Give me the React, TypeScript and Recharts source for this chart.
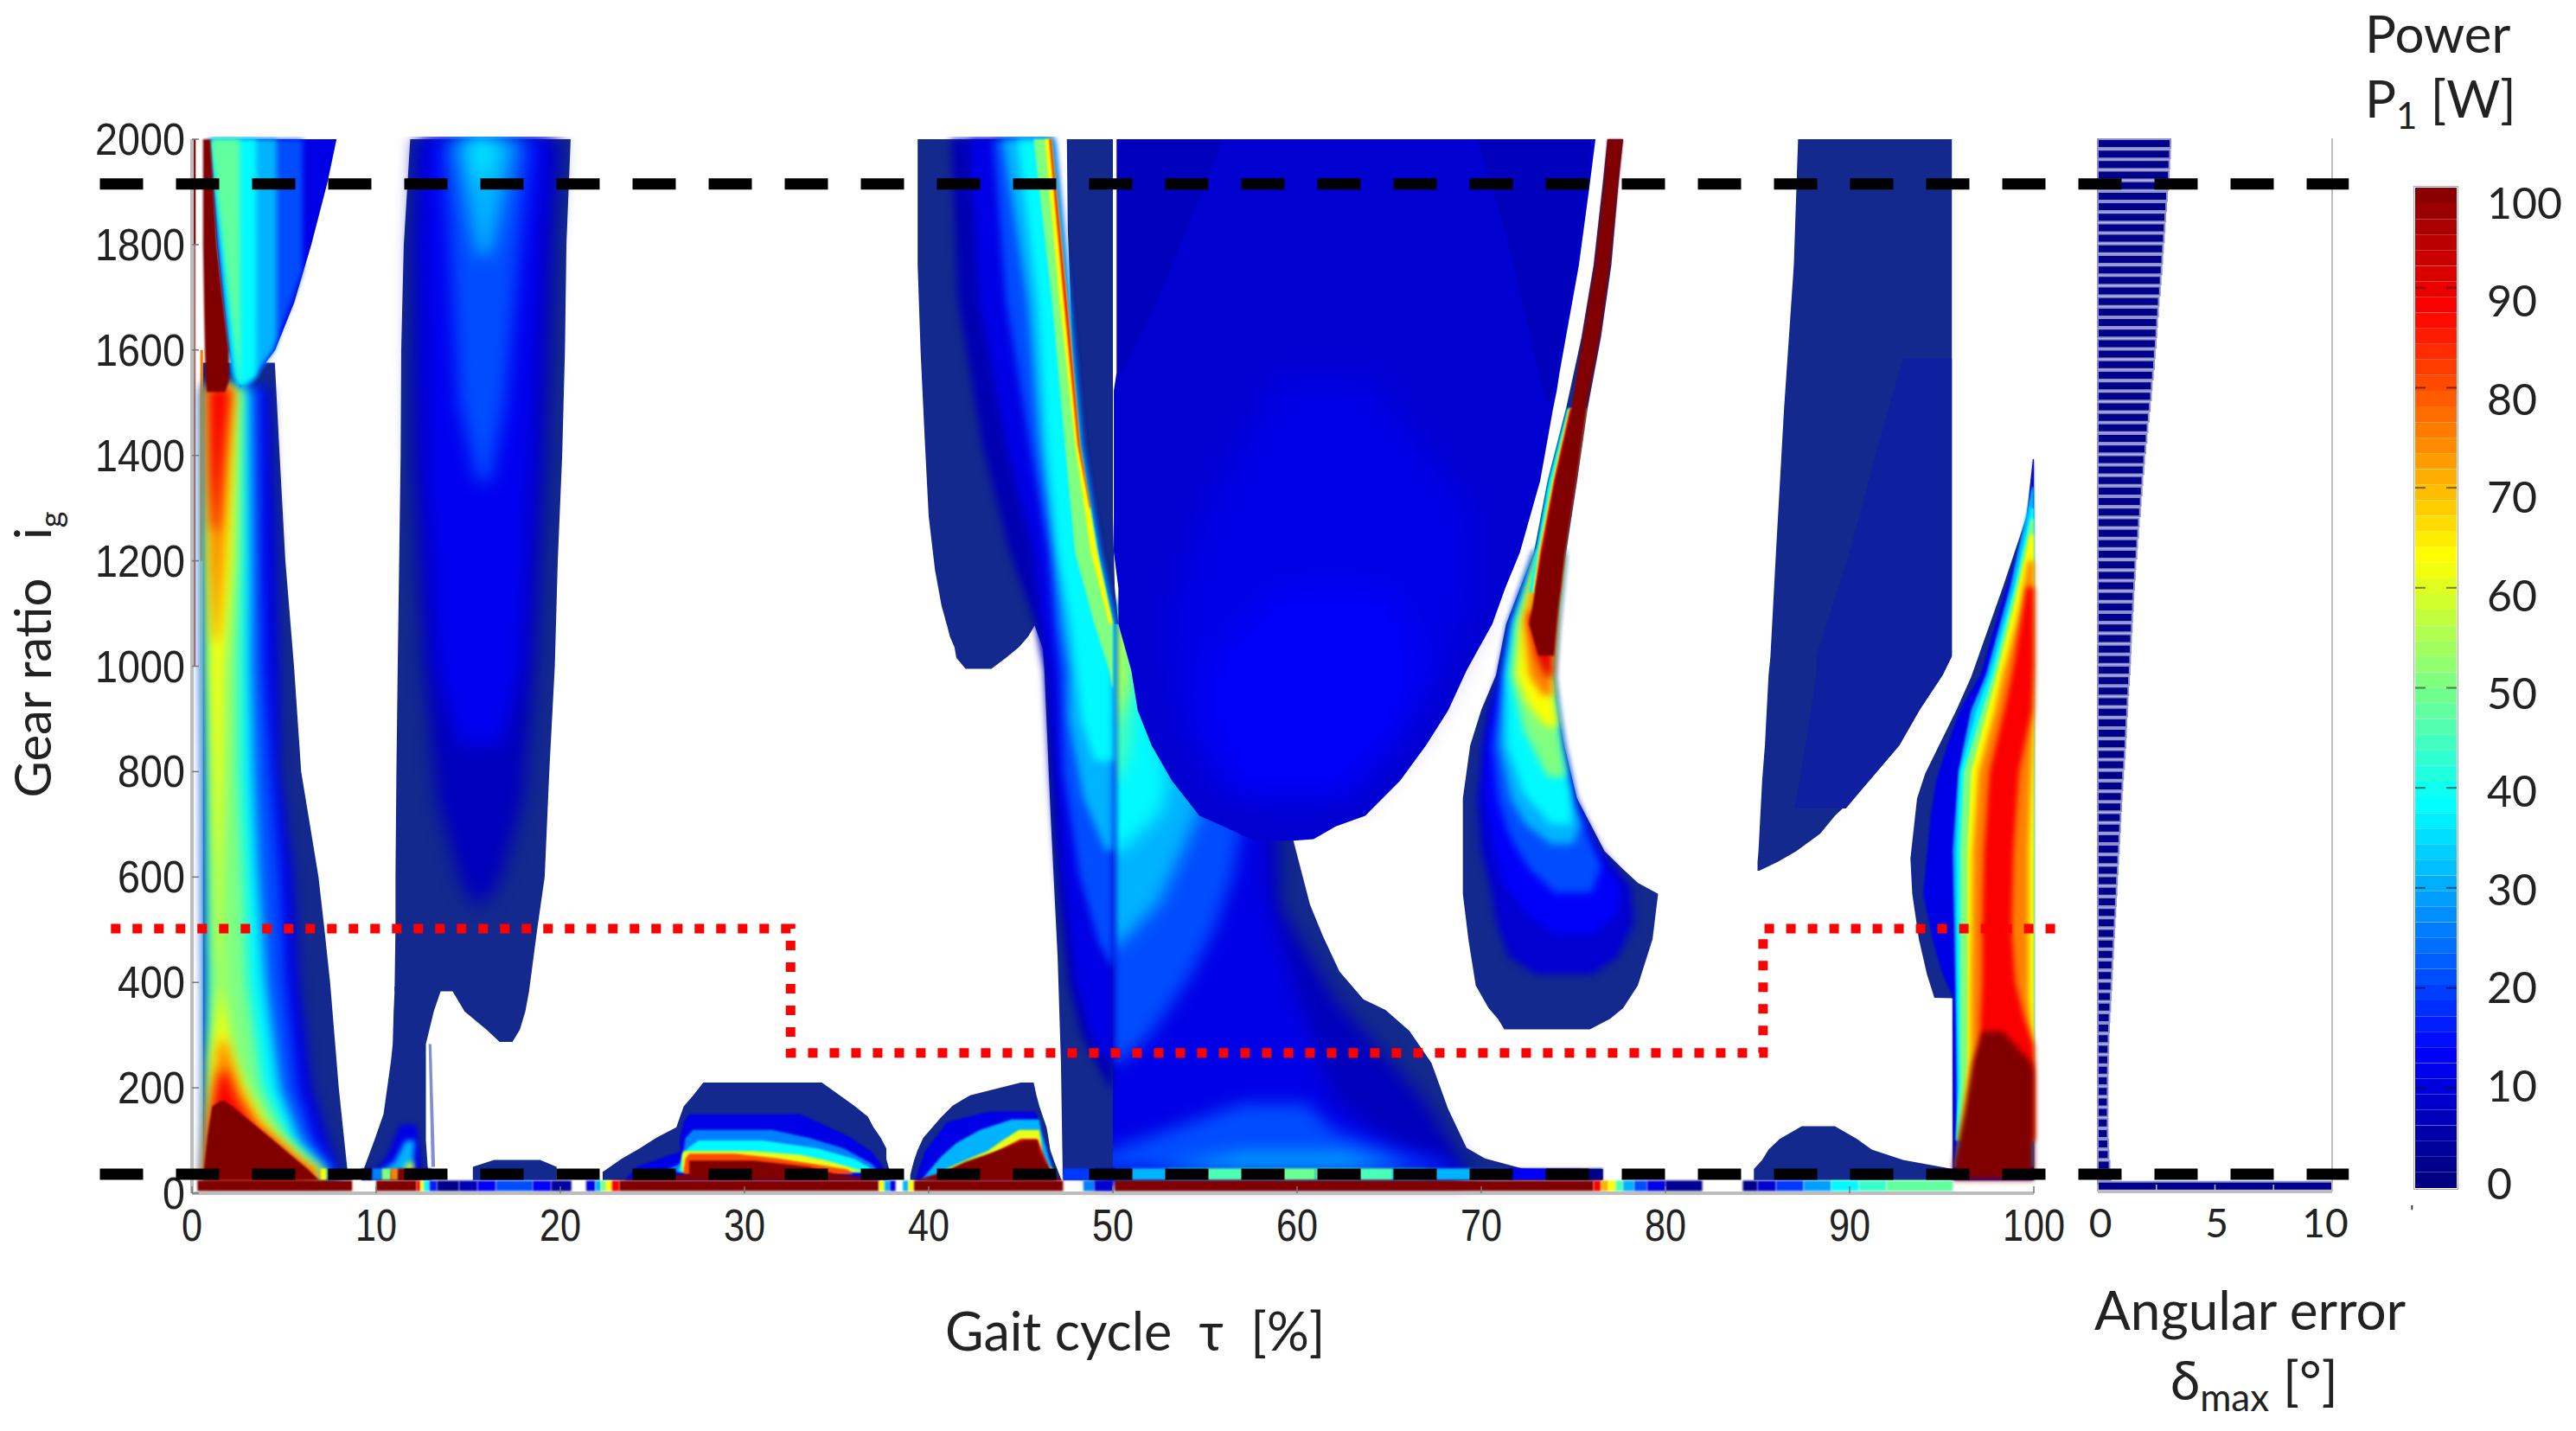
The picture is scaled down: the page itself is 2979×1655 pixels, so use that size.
import { Area, Bar, BarChart, Cell, ComposedChart, Line, LineChart, XAxis, YAxis } from "recharts";

// ── contour data: each contour is [gear ratio, tau low, tau high] rows at one power level ──
type Row = [number, number, number];
type Contour = { p: number; c?: string; pts: Row[] };
type Seg = [number, number, number];

const NAVY = "#13298d";
const TAU_TICKS = [0, 10, 20, 30, 40, 50, 60, 70, 80, 90, 100];
const GEAR_TICKS = [0, 200, 400, 600, 800, 1000, 1200, 1400, 1600, 1800, 2000];
const BAR_TICKS = [0, 10, 20, 30, 40, 50, 60, 70, 80, 90, 100];
const ERROR_TICKS = [0, 2.5, 5, 7.5, 10];

const leftTrace: Contour[] = [
  { p: 100, pts: [[2000, 0.1, 0.2], [1800, 0.1, 0.2]] },
  { p: 100, c: "#a86a6a", pts: [[1800, 0.1, 0.2], [1000, 0.1, 0.2]] },
  { p: 75, pts: [[1600, 0.45, 0.6], [1200, 0.45, 0.6]] },
];

const lowerRidgeBase: Contour[] = [
  { p: 0, pts: [[1576, 0.6, 4.5], [1400, 0.6, 4.76], [1200, 0.6, 5.07], [1000, 0.6, 5.54], [800, 0.6, 5.93], [600, 0.6, 6.87], [505, 0.6, 7.18], [400, 0.6, 7.5], [200, 0.6, 7.97], [44, 0.6, 8.44], [25, 0.6, 8.7]] },
];

const lowerRidge: Contour[] = [
  { p: 10, pts: [[1530, 0.65, 4.2], [1200, 0.65, 4.6], [1000, 0.65, 4.7], [800, 0.7, 4.76], [600, 0.7, 5.5], [400, 0.75, 5.8], [200, 0.75, 6.5], [110, 0.75, 7.3], [50, 0.7, 7.9], [25, 0.7, 8]] },
  { p: 20, pts: [[1530, 0.7, 3.66], [1200, 0.7, 3.75], [1000, 0.7, 3.9], [800, 0.75, 4.3], [600, 0.8, 4.76], [400, 0.85, 5.07], [200, 0.85, 5.7], [100, 0.8, 6.6], [45, 0.75, 7.7], [25, 0.7, 7.8]] },
  { p: 37, pts: [[1530, 0.75, 3.1], [1200, 0.75, 3.2], [1000, 0.8, 3.2], [800, 0.85, 3.35], [600, 0.85, 3.6], [400, 0.9, 4], [200, 0.9, 4.76], [100, 0.85, 5.85], [45, 0.8, 7.26], [25, 0.75, 7.4]] },
  { p: 50, pts: [[1530, 0.8, 2.7], [1200, 0.8, 2.64], [1000, 0.85, 2.57], [800, 0.9, 2.57], [600, 0.95, 2.8], [400, 0.95, 3], [200, 0.9, 3.8], [100, 0.85, 5.2], [45, 0.8, 6.8], [25, 0.78, 7.2]] },
  { p: 62, pts: [[1530, 0.85, 2.4], [1200, 0.9, 2.2], [1000, 0.95, 1.78], [800, 1.1, 1.7], [600, 1.2, 1.55], [470, 1.3, 1.55], [400, 1.45, 1.6], [330, 1.3, 1.9], [260, 1, 2.25], [200, 0.95, 2.9], [130, 0.9, 4.05], [60, 0.8, 6.2], [45, 0.78, 6.95], [25, 0.76, 7.1]] },
  { p: 75, pts: [[1530, 0.85, 2.25], [1400, 0.9, 2], [1200, 1, 1.7], [1050, 1.2, 1.4]] },
  { p: 75, pts: [[290, 1.5, 1.8], [200, 1.15, 2.6], [130, 0.95, 3.7], [60, 0.8, 5.9], [45, 0.78, 6.7], [25, 0.76, 7]] },
  { p: 88, pts: [[1530, 0.9, 2.1], [1440, 0.95, 1.85], [1350, 1, 1.6], [1260, 1.15, 1.4]] },
  { p: 88, pts: [[230, 1.5, 1.9], [180, 1.2, 2.4], [130, 1, 3.3], [60, 0.85, 5.6], [25, 0.77, 6.9]] },
];

const wedgeBase: Contour[] = [
  { p: 10, pts: [[2000, 1, 7.85], [1917, 1.1, 7.35], [1800, 1.35, 6.48], [1690, 1.7, 5.55], [1600, 2, 4.52], [1576, 2.15, 4], [1550, 2.3, 3.5], [1530, 2.6, 2.7]] },
];

const wedge: Contour[] = [
  { p: 20, pts: [[2000, 1, 6], [1750, 1.5, 6], [1690, 1.7, 5.4], [1600, 2, 4.4], [1576, 2.15, 3.9], [1550, 2.3, 3.4], [1530, 2.6, 2.7]] },
  { p: 30, pts: [[2000, 1, 4.6], [1620, 1.95, 4.6], [1600, 2, 4.4], [1576, 2.15, 3.9], [1550, 2.3, 3.4], [1530, 2.6, 2.7]] },
  { p: 37, pts: [[2000, 1, 3.5], [1550, 2.3, 3.5], [1530, 2.6, 2.7]] },
  { p: 47, pts: [[2000, 1, 2.6], [1530, 2.6, 2.62]] },
];

const ridgeDark: Contour[] = [
  { p: 100, pts: [[2000, 0.6, 1], [1917, 0.6, 1.15], [1800, 0.6, 1.35], [1690, 0.65, 1.7], [1600, 0.7, 2], [1540, 0.75, 2], [1520, 0.8, 1.8]] },
  { p: 100, pts: [[175, 1.55, 1.75], [165, 1.1, 2.2], [110, 0.85, 4.1], [45, 0.65, 6.3], [25, 0.62, 6.9]] },
];

const columnBase: Contour[] = [
  { p: 0, pts: [[2000, 11.85, 20.56], [1800, 11.5, 20.33], [1600, 11.36, 20.25], [1400, 11.33, 20.1], [1200, 11.25, 19.86], [1000, 11.17, 19.7], [800, 11.1, 19.4], [600, 11.05, 19.15], [505, 11.05, 18.76], [383, 11, 18.3]] },
  { p: 0, pts: [[392, 11, 13.5], [383, 11, 13.5], [345, 10.95, 13.13], [283, 10.9, 12.7], [250, 10.8, 12.7], [150, 10.4, 12.7], [100, 9.9, 12.7], [50, 9.37, 12.8], [25, 9.2, 12.9]] },
  { p: 0, pts: [[392, 14.15, 18.3], [383, 14.15, 18.3], [345, 14.8, 18.1], [310, 16, 17.8], [287, 16.7, 17.4]] },
  { p: 0, c: "#7f8fd0", pts: [[283, 12.85, 13], [50, 13, 13.2]] },
];

const columnInner: Contour[] = [
  { p: 6, pts: [[2000, 12.2, 20], [1800, 12, 19.6], [1400, 12, 19.2], [1000, 12.6, 18.6], [750, 13.3, 18], [600, 14.5, 16.8], [550, 15.2, 15.9]] },
  { p: 11, pts: [[2000, 12.6, 19.4], [1800, 12.5, 19], [1400, 12.7, 18.5], [1000, 13.3, 17.9], [850, 14.5, 16.8]] },
  { p: 20, pts: [[2000, 13.6, 18.4], [1800, 14, 17.8], [1500, 14.5, 17], [1350, 15.5, 16.2]] },
  { p: 30, pts: [[2000, 14.3, 17.6], [1900, 14.8, 17], [1780, 15.5, 16.2]] },
  { p: 35, pts: [[2000, 15, 16.6], [1920, 15.6, 16]] },
];

const stemHeat: Contour[] = [
  { p: 10, pts: [[130, 11.3, 12.2], [70, 10.6, 12.4], [40, 9.9, 12.5]] },
  { p: 30, pts: [[100, 11.6, 12.1], [60, 11, 12], [40, 10.2, 12]] },
  { p: 60, pts: [[60, 11.8, 12], [40, 11.4, 12]] },
];

const bumps: Contour[] = [
  { p: 0, pts: [[63, 16.4, 18.9], [50, 15.25, 19.8], [25, 15.25, 19.8]] },
  { p: 0, pts: [[210, 27.76, 34.2], [185, 27.2, 35.2], [165, 26.7, 36], [145, 26.5, 36.7], [125, 26.3, 37], [105, 25.2, 37.4], [85, 24.3, 37.7], [65, 23.3, 37.7], [40, 22.3, 37.9], [25, 22.3, 37.9]] },
  { p: 0, pts: [[210, 45, 45.7], [186, 42.25, 45.85], [166, 41.3, 46], [145, 40.7, 46.2], [125, 40.2, 46.4], [105, 39.7, 46.5], [82, 39.4, 46.6], [62, 39.2, 46.8], [35, 39, 47.1], [25, 39, 47.2]] },
];

const bumpInner: Contour[] = [
  { p: 10, pts: [[150, 27, 33], [135, 26.7, 34], [107, 26.5, 35.7], [79, 26.5, 36.9], [51, 24.2, 37.5], [25, 23.5, 37.7]] },
  { p: 25, pts: [[120, 27.2, 31.5], [105, 26.8, 33.5], [85, 26.7, 35.4], [56, 26.5, 36.9], [40, 25.5, 37.3]] },
  { p: 37, pts: [[100, 27.5, 31], [85, 26.9, 34], [65, 26.6, 36], [40, 26.4, 37.2]] },
  { p: 60, pts: [[80, 26.7, 30.5], [73, 26.6, 33], [62, 26.6, 34.5], [40, 26.6, 36.6]] },
  { p: 80, pts: [[75, 27, 29.5], [66, 26.8, 31.8], [45, 26.7, 35.6], [36, 26.7, 35.9]] },
  { p: 100, pts: [[62, 27, 30.5], [50, 27, 33.5], [36, 27, 35], [25, 23.2, 37.4]] },
  { p: 10, pts: [[155, 43.3, 45.8], [135, 41, 46], [107, 40.4, 46.2], [79, 39.8, 46.4], [50, 39.5, 46.7], [25, 39.3, 46.9]] },
  { p: 30, pts: [[140, 44.5, 46], [120, 42.8, 46.1], [95, 41.5, 46.3], [70, 40.7, 46.5], [50, 40.2, 46.7], [25, 39.6, 46.9]] },
  { p: 60, pts: [[120, 44.9, 46], [100, 44, 46.1], [80, 43.2, 46.15], [70, 42.5, 46.2], [55, 41.5, 46.4], [40, 40.6, 46.9]] },
  { p: 90, pts: [[103, 45, 45.9], [85, 44, 46.1], [60, 42.5, 46.4], [45, 41.3, 46.6], [25, 40, 46.95]] },
  { p: 100, pts: [[100, 45.2, 45.9], [80, 43.7, 46], [60, 42, 46.3], [40, 40.8, 46.7], [25, 39.3, 47.2]] },
];

const lobeBase: Contour[] = [
  { p: 0, pts: [[2000, 39.4, 46.65], [1761, 39.4, 47.2], [1597, 39.56, 47.6], [1420, 39.8, 48.2], [1284, 40, 48.88], [1183, 40.34, 49.3], [1114, 40.7, 49.7], [1077, 41, 50]] },
  { p: 0, pts: [[1090, 40.9, 45.9], [1077, 41, 45.75], [1056, 41.15, 45.4], [1036, 41.4, 44.9], [1016, 41.5, 44.2], [995, 42, 43.4]] },
  { p: 0, pts: [[2000, 47.5, 50], [1829, 47.55, 50], [1693, 47.7, 50], [1557, 47.85, 50], [1420, 48.25, 50], [1284, 48.9, 50], [1148, 49.55, 50.1], [1080, 50, 50.3]] },
];

const ridgeLeft: Contour[] = [
  { p: 0, pts: [[1090, 45.7, 50], [1077, 45.75, 50], [1033, 46.2, 50], [992, 46.28, 50], [716, 46.62, 50], [448, 47, 50], [247, 47.18, 50], [47, 47.27, 50], [25, 47.3, 50]] },
];

const ridgeLevels: Contour[] = [
  { p: 5, pts: [[2000, 41.2, 46.65], [1693, 41.6, 47.5], [1420, 42.9, 48.2], [1216, 44.4, 49.15], [1080, 45.8, 50], [992, 46.3, 50], [800, 46.6, 50], [600, 47, 50], [400, 47.6, 50], [300, 48.3, 50], [200, 49.8, 50]] },
  { p: 10, pts: [[2000, 42.2, 46.65], [1693, 42.75, 47.5], [1420, 44.2, 48.2], [1216, 45.7, 49.15], [1080, 46.1, 50], [992, 46.5, 50], [800, 46.9, 50], [600, 47.3, 50], [400, 48, 50], [300, 48.8, 50], [250, 49.7, 50]] },
  { p: 20, pts: [[2000, 43.5, 46.65], [1693, 44.2, 47.5], [1420, 45.5, 48.2], [1216, 46.5, 49.15], [1080, 46.8, 50], [992, 47.1, 50], [800, 47.3, 50], [600, 48.2, 50], [480, 49.2, 50], [430, 49.9, 50]] },
  { p: 30, pts: [[2000, 44, 46.65], [1693, 45.35, 47.5], [1420, 46, 48.2], [1216, 46.8, 49.15], [1080, 47.2, 50], [992, 47.6, 50], [900, 47.6, 50], [750, 48.4, 50], [650, 49.6, 50]] },
  { p: 37, pts: [[2000, 44.8, 46.65], [1693, 45.9, 47.5], [1420, 46.4, 48.2], [1216, 47, 49.15], [1080, 47.7, 50], [992, 48, 50], [900, 48.3, 50], [820, 49, 50]] },
];

const ridgeCrest: Contour[] = [
  { p: 50, pts: [[2000, 45.7, 46.65], [1693, 46.7, 47.5], [1420, 47.4, 48.2], [1216, 47.95, 49.15], [1080, 49, 50], [992, 49.8, 50], [960, 49.95, 50]] },
  { p: 62, pts: [[2000, 46.3, 46.65], [1693, 47.1, 47.5], [1420, 47.95, 48.2], [1216, 48.8, 49.15], [1080, 49.8, 50]] },
  { p: 88, pts: [[2000, 46.55, 46.65], [1693, 47.35, 47.5], [1420, 48.1, 48.2], [1300, 48.75, 48.8]] },
];

const lowerRight: Contour[] = [
  { p: 0, pts: [[1100, 49.8, 55], [800, 49.8, 59.5], [669, 49.8, 59.8], [548, 49.8, 60.7], [488, 49.8, 61.4], [421, 49.8, 62.3], [368, 49.8, 63.6], [348, 49.8, 64.8], [308, 49.8, 66.1], [247, 49.8, 67.3], [160, 49.8, 68.2], [86, 49.8, 69.2], [66, 49.8, 70.2], [47, 49.8, 72.2], [46, 49.8, 76.6], [25, 49.8, 76.6]] },
];

const lowerRightInner: Contour[] = [
  { p: 6, pts: [[1100, 49, 55], [800, 49, 59], [548, 49, 59], [370, 49, 62], [180, 49, 66.8], [80, 49, 68.6], [25, 49, 69.5]] },
  { p: 10, pts: [[1100, 49, 55], [800, 49, 58], [548, 49, 58.5], [370, 49, 60], [180, 49, 62], [100, 49, 65], [60, 49, 68], [25, 49, 69]] },
  { p: 20, pts: [[1100, 49, 54.5], [800, 49, 57], [700, 49, 57], [600, 49, 56.5], [500, 49, 55.5], [400, 49, 54], [300, 49, 52], [250, 49, 50.5]] },
  { p: 20, pts: [[170, 57, 60.5], [120, 53, 62], [70, 49, 66], [47, 49, 69]] },
  { p: 30, pts: [[1100, 49, 53], [850, 49, 54.5], [750, 49, 55], [650, 49, 53.8], [550, 49, 52.5], [470, 49, 50.3]] },
  { p: 30, pts: [[75, 57, 62.5], [47, 52, 66]] },
  { p: 37, pts: [[1100, 49, 52], [880, 49, 52.5], [780, 49, 53], [720, 49, 52.6], [650, 49, 50.5]] },
  { p: 45, pts: [[1100, 49, 51.5], [900, 49, 51], [830, 49, 50.8], [780, 49, 50.1]] },
  { p: 55, pts: [[1100, 49, 51], [960, 49, 50.8], [900, 49, 50.1]] },
];

const bowl: Contour[] = [
  { p: 8, pts: [[2000, 50.2, 76.2], [1917, 50.2, 75.9], [1761, 50.2, 75.3], [1625, 50.2, 74.6], [1557, 50.2, 74.25], [1523, 50.05, 74.1], [1489, 50.05, 73.9], [1352, 50.05, 73.2], [1216, 50.05, 72.1], [1148, 50.3, 71.3], [1080, 50.3, 70.6], [992, 51, 69.2], [916, 51.35, 68.2], [850, 52.1, 67], [783, 53.2, 65.6], [716, 54.7, 63.7], [696, 56, 62.1], [672, 57.5, 60.9], [669, 58, 59.8]] },
];

const bowlPatches: Contour[] = [
  { p: 6, pts: [[2000, 69.8, 76], [1800, 71.5, 75.3], [1500, 73.5, 73.8]] },
  { p: 6, pts: [[2000, 50.3, 56], [1700, 50.3, 52.5], [1557, 50.3, 50.5]] },
];

const bowlInner: Contour[] = [
  { p: 10, pts: [[1550, 59, 64], [1300, 55, 69.5], [1100, 53, 69.5], [900, 53.5, 66.5], [760, 56, 63]] },
  { p: 12, pts: [[1150, 59, 65], [1000, 55, 67], [880, 55, 65.5], [760, 57, 62.5]] },
];

const peakBase: Contour[] = [
  { p: 0, pts: [[2000, 76.85, 77.7], [1917, 76.6, 77.45], [1761, 76.1, 77.06], [1625, 75.45, 76.5], [1489, 74.6, 75.77], [1352, 73.6, 75.2], [1216, 72.86, 74.6], [1080, 71.35, 74.15], [983, 70.8, 73.94], [917, 70, 74.15], [850, 69.4, 74.5], [749, 69, 75.2], [649, 69, 76.7], [615, 69, 77.7], [589, 69, 78.5], [568, 69, 79.6], [482, 69.3, 79.3], [394, 69.7, 78.5], [351, 70.4, 77.7], [331, 70.9, 77], [311, 71.25, 75.9]] },
];

const peakInner: Contour[] = [
  { p: 8, pts: [[1216, 72.95, 74.4], [1080, 71.55, 74], [983, 71, 73.8], [917, 70.4, 74], [749, 69.8, 75], [650, 70, 76.5], [582, 70.5, 78.1], [515, 70.8, 78.3], [448, 71.5, 77.4], [415, 73, 76]] },
  { p: 12, pts: [[1216, 73, 74.4], [1080, 71.6, 74], [983, 71.1, 73.8], [850, 70.2, 74.35], [749, 70.2, 75], [650, 70.7, 76.2], [582, 71.3, 77.5], [530, 72.5, 77.4], [490, 74, 76]] },
  { p: 20, pts: [[1216, 73, 74.4], [1080, 71.65, 74], [983, 71.15, 73.8], [850, 70.6, 74.35], [749, 70.9, 75], [680, 71.5, 75.8], [620, 72.5, 76.5], [570, 74, 76]] },
  { p: 30, pts: [[1216, 73.05, 74.4], [1080, 71.7, 74], [983, 71.25, 73.8], [850, 71, 74.25], [749, 71.6, 74.85], [700, 72.4, 75.4], [662, 73.8, 75]] },
  { p: 37, pts: [[1216, 73.05, 74.4], [1080, 71.75, 74], [983, 71.35, 73.8], [850, 71.4, 74.25], [760, 72.3, 74.85], [700, 73.8, 74.9]] },
  { p: 50, pts: [[1216, 73.1, 74.4], [1080, 71.9, 74], [983, 71.6, 73.8], [880, 72.3, 74.2], [790, 73.6, 74.6]] },
  { p: 62, pts: [[1216, 73.15, 74.4], [1080, 72.1, 74], [983, 71.9, 73.8], [930, 72.5, 73.95], [885, 73.5, 74.15]] },
  { p: 75, pts: [[1216, 73.2, 74.4], [1080, 72.3, 74], [983, 72.6, 73.8], [945, 73.3, 73.9]] },
  { p: 90, pts: [[1100, 72.5, 74], [1020, 73, 73.85], [980, 73.5, 73.85]] },
];

const peakSeam: Contour[] = [
  { p: 37, pts: [[1489, 74.66, 75.7], [1352, 73.65, 75.1], [1216, 72.95, 74.5], [1140, 72.6, 74.3]] },
  { p: 62, pts: [[1489, 74.75, 75.7], [1352, 73.85, 75.1], [1216, 73.1, 74.5], [1140, 72.8, 74.3]] },
  { p: 88, pts: [[1489, 74.82, 75.7], [1352, 73.95, 75.1], [1216, 73.2, 74.5], [1140, 72.9, 74.3]] },
];

const peakDark: Contour[] = [
  { p: 100, pts: [[2000, 76.85, 77.7], [1917, 76.65, 77.45], [1761, 76.15, 77], [1625, 75.5, 76.45], [1489, 74.9, 75.7], [1352, 74, 75.15], [1216, 73.3, 74.55], [1080, 72.6, 74.1], [1020, 73.1, 73.95]] },
];

const farRight: Contour[] = [
  { p: 0, pts: [[2000, 87.2, 95.55], [1761, 86.97, 95.55], [1489, 86.44, 95.55], [1216, 86, 95.55], [1019, 85.7, 95.55], [983, 85.6, 95.05], [917, 85.5, 93.8], [850, 85.4, 92.7], [783, 85.25, 91.07], [749, 85.2, 90.2], [716, 85.15, 89.2], [682, 85.1, 88.4], [649, 85.05, 87.1], [629, 85, 86.1], [612, 85, 85.1]] },
  { p: 3, c: "#0e1f9f", pts: [[1584, 92.9, 95.55], [1400, 91.4, 95.55], [1216, 90, 95.55], [1019, 88.2, 95.55], [983, 88.2, 95.05], [917, 87.9, 93.8], [850, 87.6, 92.7], [783, 87.3, 91.07], [730, 87, 89.8]] },
  { p: 0, pts: [[127, 87.4, 89.2], [103, 86.2, 90.4], [83, 85.6, 91.2], [63, 85.25, 92.9], [46, 84.8, 95.6], [25, 84.8, 95.6]] },
  { p: 0, pts: [[1393, 99.95, 100], [1284, 99.6, 100], [1148, 98.3, 100], [980, 96.6, 100], [917, 95.8, 100], [796, 94.1, 100], [749, 93.66, 100], [635, 93.3, 100], [568, 93.4, 100], [482, 93.76, 100], [415, 94.2, 100], [371, 94.6, 100], [370, 95.6, 100], [25, 95.6, 100]] },
];

const endRidge: Contour[] = [
  { p: 10, pts: [[1393, 99.97, 100], [1284, 99.7, 100], [1148, 98.5, 100], [983, 97.1, 100], [917, 96, 100], [850, 95.3, 100], [783, 94.7, 100], [716, 94.4, 100], [568, 94, 100], [482, 94.5, 100], [420, 95, 100], [372, 95.6, 100], [25, 95.62, 100]] },
  { p: 30, pts: [[1340, 99.9, 100], [1148, 98.7, 100], [983, 97.4, 100], [917, 96.6, 100], [800, 95.9, 100], [650, 95.6, 100], [372, 95.75, 100], [100, 95.85, 100], [50, 95.65, 100]] },
  { p: 37, pts: [[1300, 99.85, 100], [1148, 98.9, 100], [983, 97.6, 100], [917, 96.9, 100], [800, 96, 100], [650, 95.8, 100], [372, 95.85, 100], [200, 95.9, 100], [100, 95.75, 100]] },
  { p: 50, pts: [[1280, 99.85, 100], [1148, 99, 100], [983, 97.8, 100], [917, 97.2, 100], [800, 96.2, 100], [650, 96, 100], [372, 96, 100], [200, 96, 100], [100, 95.8, 100]] },
  { p: 62, pts: [[1250, 99.8, 100], [1148, 99.15, 100], [983, 98, 100], [917, 97.5, 100], [800, 96.6, 100], [650, 96.4, 100], [372, 96.4, 100], [250, 96.4, 100], [100, 96, 100]] },
];

const endRed: Contour[] = [
  { p: 75, pts: [[1200, 99.7, 100], [1100, 99.2, 100], [983, 98.3, 100], [917, 97.9, 100], [800, 97, 99.85], [650, 96.7, 99.7], [372, 96.6, 99.7], [250, 96.6, 100], [100, 96.1, 100]] },
  { p: 88, pts: [[1150, 99.6, 100], [1000, 98.9, 100], [917, 98.4, 99.9], [800, 97.6, 99.2], [650, 97.3, 98.9], [500, 97.2, 98.8], [400, 97.2, 99], [330, 97.1, 99.5], [280, 97.1, 100], [100, 96.5, 100]] },
];

const endDark: Contour[] = [
  { p: 100, pts: [[307, 97.2, 98.3], [247, 96.67, 99.9], [230, 96.6, 100], [150, 96.2, 100], [60, 95.65, 100], [25, 95.6, 100]] },
];

// bottom rows: tau low, tau high, power
const bottomRow: Seg[] = [
  [0.3, 8.7, 100], [10, 12.2, 100], [12.2, 12.4, 88], [12.4, 12.6, 62], [12.6, 12.9, 37], [12.9, 13.3, 15], [13.3, 14.5, 1], [14.5, 15.5, 5], [15.5, 16.5, 12], [16.5, 18.5, 20], [18.5, 19.5, 12], [19.5, 20.6, 3],
  [21.4, 21.9, 10], [21.9, 22.2, 30], [22.2, 22.5, 50], [22.5, 22.8, 62], [22.8, 23.2, 88], [23.2, 37.3, 100], [37.3, 37.6, 62], [37.6, 37.9, 30], [37.9, 38.2, 10], [38.6, 38.9, 30], [38.9, 39.2, 62], [39.2, 47.3, 100],
  [48.4, 49, 25], [49, 50, 8], [50.1, 76.1, 100], [76.1, 76.5, 88], [76.5, 76.9, 70], [76.9, 77.3, 62], [77.3, 77.7, 45], [77.7, 78.3, 30], [78.3, 79, 20], [79, 80, 10], [80, 82, 2],
  [84.2, 85, 1], [85, 86, 8], [86, 87.5, 18], [87.5, 89, 28], [89, 90.5, 37], [90.5, 92, 43], [92, 95.6, 47],
];

const middleRow: Seg[] = [
  [7, 7.3, 62], [9.2, 9.8, 5], [9.8, 10.3, 25], [10.3, 10.8, 50], [10.8, 11.2, 75], [11.2, 12.6, 100], [12.6, 13, 10],
  [47.3, 49, 18], [49, 50.1, 8], [50.1, 51, 20], [51, 53, 30], [53, 55, 38], [55, 59, 45], [59, 61, 48], [61, 63.4, 47], [63.4, 65.2, 45], [65.2, 67, 38], [67, 69.5, 30], [69.5, 71.5, 20], [71.5, 73.5, 12], [73.5, 75.5, 5], [75.5, 76.6, 1],
];

// gear limit lines and the allowed envelope
const upperLimit = [{ tau: -5, gear: 1915 }, { tau: 117.1, gear: 1915 }];
const lowerLimit = [{ tau: -5, gear: 36 }, { tau: 117.1, gear: 36 }];
const envelope = [
  { tau: -4.4, gear: 502 }, { tau: 32.5, gear: 502 }, { tau: 32.5, gear: 266 }, { tau: 85.3, gear: 266 }, { tau: 85.3, gear: 502 }, { tau: 101.5, gear: 502 },
];
const panelEdge = [{ err: 10, gear: 0 }, { err: 10, gear: 2000 }];
const barEdge = [{ pos: 0, level: 0 }, { pos: 0, level: 100 }];

// angular error per gear ratio step, top (2000) to bottom (20)
const errorValues = [
  3.1, 3.08, 3.05, 3.03, 3, 2.95, 2.92, 2.88, 2.85, 2.82,
  2.78, 2.75, 2.72, 2.68, 2.65, 2.6, 2.57, 2.53, 2.5, 2.47,
  2.43, 2.4, 2.35, 2.3, 2.27, 2.22, 2.17, 2.12, 2.08, 2.03,
  1.98, 1.95, 1.9, 1.87, 1.83, 1.8, 1.75, 1.72, 1.68, 1.65,
  1.6, 1.58, 1.55, 1.52, 1.5, 1.47, 1.45, 1.42, 1.4, 1.38,
  1.36, 1.33, 1.3, 1.27, 1.25, 1.22, 1.2, 1.18, 1.15, 1.12,
  1.08, 1.05, 1.02, 1, 0.97, 0.95, 0.92, 0.9, 0.87, 0.85,
  0.82, 0.8, 0.77, 0.75, 0.72, 0.7, 0.67, 0.65, 0.62, 0.6,
  0.58, 0.55, 0.53, 0.5, 0.48, 0.46, 0.45, 0.44, 0.43, 0.42,
  0.42, 0.42, 0.42, 0.42, 0.42, 0.44, 0.46, 0.5, 0.55, 10,
];

const barLevels = [
  99, 97.4, 95.8, 94.3, 92.7, 91.1, 89.5, 88, 86.4, 84.8, 83.2, 81.6, 80.1, 78.5, 76.9, 75.3,
  73.8, 72.2, 70.6, 69, 67.4, 65.9, 64.3, 62.7, 61.1, 59.6, 58, 56.4, 54.8, 53.2, 51.7, 50.1,
  48.5, 46.9, 45.4, 43.8, 42.2, 40.6, 39, 37.5, 35.9, 34.3, 32.7, 31.2, 29.6, 28, 26.4, 24.8,
  23.3, 21.7, 20.1, 18.5, 17, 15.4, 13.8, 12.2, 10.6, 9.1, 7.5, 5.9, 4.3, 2.8, 1.2, 0.2,
];

// MATLAB jet colour map
function jet(p: number): string {
  const t = p / 100;
  const ch = (v: number) => Math.round(Math.max(0, Math.min(1, v)) * 255).toString(16).padStart(2, "0");
  return "#" + ch(1.5 - Math.abs(4 * t - 3)) + ch(1.5 - Math.abs(4 * t - 2)) + ch(1.5 - Math.abs(4 * t - 1));
}

const toRow = ([gear, lo, hi]: Row) => ({ gear, band: [lo, hi] });
const segRows = (segs: Seg[], low: number, high: number): Contour[] =>
  segs.map(([lo, hi, p]) => ({ p, pts: [[high, lo, hi], [low, lo, hi]] as Row[] }));

const layers: Array<[Contour[], string]> = [
  [leftTrace, ""],
  [lowerRidgeBase, ""],
  [lowerRidge, "soft"],
  [wedgeBase, ""],
  [wedge, "light"],
  [ridgeDark, "thin"],
  [columnBase, ""],
  [columnInner, "med"],
  [stemHeat, "light"],
  [bumps, ""],
  [bumpInner, "thin"],
  [lowerRight, ""],
  [lowerRightInner, "med"],
  [lobeBase, ""],
  [ridgeLeft, ""],
  [ridgeLevels, "mid"],
  [ridgeCrest, "thin"],
  [bowl, ""],
  [bowlPatches, ""],
  [bowlInner, "wide"],
  [peakBase, ""],
  [peakInner, "mid"],
  [peakSeam, "thin"],
  [peakDark, "thin"],
  [farRight, ""],
  [endRidge, "thin"],
  [endRed, "light"],
  [endDark, "light"],
  [segRows(middleRow, 25, 47), "thin"],
  [segRows(bottomRow, 4, 24), "thin"],
];

const NUM_FONT = "'Liberation Sans', Arial, sans-serif";
const TEXT_FONT = "Lato, 'Open Sans', sans-serif";
const AXIS_GREY = "#bdbdbd";

function TauTick({ payload, y }: any) {
  const x = payload.coordinate;
  const label = String(payload.value);
  return (
    <g>
      <line x1={x} x2={x} y1={y - 8} y2={y} stroke="#777" strokeWidth={1.5} />
      <text x={x} y={y + 55} textAnchor="middle" textLength={label.length * 24} lengthAdjust="spacingAndGlyphs" fontFamily={NUM_FONT} fontSize={51} fill="#222">{label}</text>
    </g>
  );
}

function GearTick({ payload, x }: any) {
  const y = payload.coordinate;
  const label = String(payload.value);
  return (
    <g>
      <line x1={x} x2={x + 8} y1={y} y2={y} stroke="#777" strokeWidth={1.5} />
      <text x={x - 8} y={y + 18} textAnchor="end" textLength={label.length * 26} lengthAdjust="spacingAndGlyphs" fontFamily={NUM_FONT} fontSize={51} fill="#222">{label}</text>
    </g>
  );
}

function ErrorTick({ payload, y }: any) {
  const x = payload.coordinate;
  const label = payload.value === 0 || payload.value === 5 || payload.value === 10;
  const shift = payload.value === 10 ? -8 : payload.value === 0 ? 3 : 2;
  return (
    <g>
      <line x1={x} x2={x} y1={y - 8} y2={y} stroke="#bbb" strokeWidth={1.5} />
      {label && <text x={x + shift} y={y + 53} textAnchor="middle" fontFamily={TEXT_FONT} fontSize={46} fill="#222">{payload.value}</text>}
    </g>
  );
}

function PowerTick({ payload, x }: any) {
  const y = payload.coordinate;
  const barLeft = x - 48;
  const ends = payload.value === 0 || payload.value === 100;
  return (
    <g>
      {!ends && <line x1={barLeft} x2={barLeft + 12} y1={y} y2={y} stroke="#00000080" strokeWidth={2} />}
      {!ends && <line x1={x - 12} x2={x} y1={y} y2={y} stroke="#00000080" strokeWidth={2} />}
      <text x={x + 35} y={y + 17 - 4 + payload.value * 0.23} fontFamily={TEXT_FONT} fontSize={50} fill="#222">{payload.value}</text>
    </g>
  );
}

const box = (left: number, top: number, width: number, height: number): React.CSSProperties => ({ position: "absolute", left, top, width, height });
const caption = (left: number, top: number, size: number): React.CSSProperties => ({ position: "absolute", left, top, fontFamily: TEXT_FONT, fontSize: size, color: "#222", whiteSpace: "pre", lineHeight: 1 });

export default function App() {
  let key = 0;
  const errorData = errorValues.map((value, n) => ({ step: n, value }));
  const barData = barLevels.map((level) => ({ level, span: 1 }));

  return (
    <div style={box(0, 0, 2979, 1655)}>
      <style>{`
        .thin { filter: blur(1.2px); }
        .light { filter: blur(3px); }
        .mid { filter: blur(5px); }
        .soft { filter: blur(7px); }
        .med { filter: blur(10px); }
        .wide { filter: blur(18px); }
      `}</style>

      {/* main map */}
      <div style={box(0, 0, 2979, 1655)}>
        <ComposedChart layout="vertical" width={2979} height={1655} margin={{ left: 122, right: 627, top: 161, bottom: 215 }}>
          <XAxis type="number" domain={[0, 100]} ticks={TAU_TICKS} height={60} tick={<TauTick />} tickLine={false} tickSize={0} tickMargin={0} axisLine={{ stroke: AXIS_GREY, strokeWidth: 4 }} interval={0} />
          <YAxis type="number" dataKey="gear" reversed domain={[0, 2000]} ticks={GEAR_TICKS} width={100} tick={<GearTick />} tickLine={false} tickSize={0} tickMargin={0} axisLine={{ stroke: AXIS_GREY, strokeWidth: 4 }} interval={0} />
          {layers.flatMap(([contours, cls]) =>
            contours.map((ct) => (
              <Area
                key={key++}
                className={cls}
                data={ct.pts.map(toRow)}
                dataKey="band"
                type="linear"
                stroke="none"
                fill={ct.c ?? (ct.p === 0 ? NAVY : jet(ct.p))}
                fillOpacity={1}
                dot={false}
                activeDot={false}
                isAnimationActive={false}
              />
            ))
          )}
        </ComposedChart>
      </div>
      {/* blur fringe above the map */}
      <div style={{ ...box(224, 120, 2130, 38), background: "#fff" }} />

      {/* angular error panel */}
      <div style={box(0, 0, 2979, 1655)}>
        <BarChart layout="vertical" data={errorData} width={2979} height={1655} margin={{ left: 2426, right: 282, top: 160, bottom: 217 }} barCategoryGap={0}>
          <XAxis type="number" domain={[0, 10]} ticks={ERROR_TICKS} height={60} tick={<ErrorTick />} tickLine={false} tickSize={0} tickMargin={0} axisLine={{ stroke: AXIS_GREY, strokeWidth: 4 }} interval={0} />
          <YAxis type="category" dataKey="step" hide />
          <Bar dataKey="value" barSize={10} fill="#00008b" stroke="#8c90cc" strokeWidth={2} isAnimationActive={false} />
        </BarChart>
      </div>
      {/* panel frame: top and right edges */}
      <div style={box(0, 0, 2979, 1655)}>
        <LineChart width={2979} height={1655} margin={{ left: 2426, right: 282, top: 160, bottom: 277 }}>
          <XAxis type="number" dataKey="err" orientation="top" domain={[0, 10]} ticks={ERROR_TICKS} mirror height={0} tick={false} tickSize={8} tickLine={{ stroke: "#bbb" }} axisLine={{ stroke: AXIS_GREY, strokeWidth: 2 }} />
          <YAxis type="number" dataKey="gear" orientation="right" domain={[0, 2000]} ticks={GEAR_TICKS} mirror width={0} tick={false} tickSize={8} tickLine={{ stroke: "#bbb" }} axisLine={{ stroke: AXIS_GREY, strokeWidth: 2 }} />
          <Line data={panelEdge} dataKey="gear" stroke={AXIS_GREY} strokeWidth={2} dot={false} activeDot={false} isAnimationActive={false} />
        </LineChart>
      </div>

      {/* colour bar */}
      <div style={{ ...box(2791, 215, 52, 1161), border: "1px solid #aaa", boxSizing: "border-box" }} />
      <div style={box(2793, 0, 186, 1655)}>
        <BarChart layout="vertical" data={barData} width={186} height={1655} margin={{ left: 0, right: 138, top: 217, bottom: 281 }} barCategoryGap={0}>
          <XAxis type="number" domain={[0, 1]} hide />
          <YAxis type="category" dataKey="level" hide />
          <Bar dataKey="span" isAnimationActive={false}>
            {barData.map((d) => (
              <Cell key={d.level} fill={jet(d.level)} />
            ))}
          </Bar>
        </BarChart>
      </div>
      <div style={box(2793, 0, 186, 1655)}>
        <LineChart width={186} height={1655} margin={{ left: 0, right: 38, top: 217, bottom: 281 }}>
          <XAxis type="number" dataKey="pos" domain={[0, 1]} hide />
          <YAxis type="number" dataKey="level" orientation="right" domain={[0, 100]} ticks={BAR_TICKS} width={100} tick={<PowerTick />} tickLine={false} tickSize={0} tickMargin={0} axisLine={false} interval={0} />
          <Line data={barEdge} dataKey="level" stroke="none" dot={false} activeDot={false} isAnimationActive={false} />
        </LineChart>
      </div>

      {/* limit lines over everything */}
      <div style={box(0, 0, 2979, 1655)}>
        <LineChart width={2979} height={1655} margin={{ left: 94.2, right: 243.6, top: 161, bottom: 275 }}>
          <XAxis type="number" dataKey="tau" domain={[-6, 118]} hide />
          <YAxis type="number" dataKey="gear" domain={[0, 2000]} hide />
          <Line data={upperLimit} dataKey="gear" stroke="#000" strokeWidth={13} strokeDasharray="50 38" dot={false} activeDot={false} isAnimationActive={false} />
          <Line data={lowerLimit} dataKey="gear" stroke="#000" strokeWidth={13} strokeDasharray="50 38" dot={false} activeDot={false} isAnimationActive={false} />
          <Line data={envelope} dataKey="gear" stroke="#ff0000" strokeWidth={11} strokeDasharray="11 14" dot={false} activeDot={false} isAnimationActive={false} />
        </LineChart>
      </div>

      {/* titles */}
      <div style={caption(1093, 1508, 61)}>{"Gait cycle  τ  [%]"}</div>
      <div style={{ ...caption(42, 757, 58), transform: "translate(-50%, -50%) rotate(-90deg)" }}>
        {"Gear ratio   i"}<sub style={{ fontSize: 36 }}>g</sub>
      </div>
      <div style={caption(2422, 1483, 62)}>Angular error</div>
      <div style={caption(2510, 1564, 62)}>
        {"δ"}<sub style={{ fontSize: 44 }}>max</sub>{" [°]"}
      </div>
      <div style={caption(2735, 8, 60)}>Power</div>
      <div style={caption(2735, 83, 60)}>
        {"P"}<sub style={{ fontSize: 42 }}>1</sub>{" [W]"}
      </div>
      <div style={caption(2787, 1390, 22)}>{"'"}</div>
    </div>
  );
}
